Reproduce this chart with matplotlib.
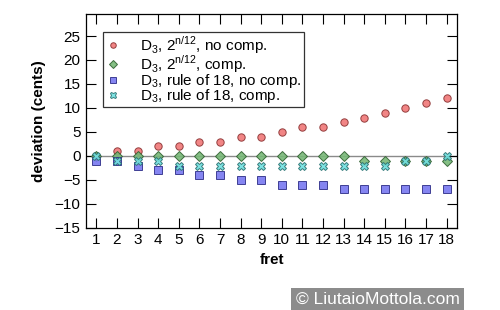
import matplotlib.pyplot as plt
import numpy as np

plt.rcParams['font.family'] = ['Liberation Sans', 'DejaVu Sans']
plt.rcParams['mathtext.fontset'] = 'custom'
plt.rcParams['mathtext.rm'] = 'Liberation Sans'

frets = list(range(1, 19))
et_no_comp = [0, 1, 1, 2, 2, 3, 3, 4, 4, 5, 6, 6, 7, 8, 9, 10, 11, 12]
et_comp = [0, 0, 0, 0, 0, 0, 0, 0, 0, 0, 0, 0, 0, -1, -1, -1, -1, -1]
r18_no_comp = [-1, -1, -2, -3, -3, -4, -4, -5, -5, -6, -6, -6, -7, -7, -7, -7, -7, -7]
r18_comp = [0, -1, -1, -1, -2, -2, -2, -2, -2, -2, -2, -2, -2, -2, -2, -1, -1, 0]

labels = [r'D$_\mathrm{3}$, 2$^\mathrm{n/12}$, no comp.',
          r'D$_\mathrm{3}$, 2$^\mathrm{n/12}$, comp.',
          r'D$_\mathrm{3}$, rule of 18, no comp.',
          r'D$_\mathrm{3}$, rule of 18, comp.']
yticks = [-15, -10, -5, 0, 5, 10, 15, 20, 25]

fig = plt.figure(figsize=(5, 3.1), dpi=100)
ax = fig.add_axes([0.172, 0.265, 0.742, 0.69])

ax.axhline(0, color='#8a8a8a', lw=1, zorder=1)

ax.plot(frets, et_no_comp, 'o', ms=5.3, mfc='#f07878', mec='#8a3030', mew=0.7,
        alpha=0.9, label=labels[0], zorder=3)
ax.plot(frets, et_comp, 'D', ms=5.3, mfc='#78b878', mec='#2f602f', mew=0.7,
        alpha=0.9, label=labels[1], zorder=3)
ax.plot(frets, r18_no_comp, 's', ms=5.3, mfc='#7878f0', mec='#30308a', mew=0.7,
        alpha=0.9, label=labels[2], zorder=3)
ax.plot(frets, r18_comp, 'X', ms=6.3, mfc='#70e0e0', mec='#2a7070', mew=0.7,
        alpha=0.9, label=labels[3], zorder=3)

ax.set_xlim(0.5, 18.5)
ax.set_ylim(-15, 29.6)
ax.set_xticks(frets)
ax.set_yticks(yticks)
ax.tick_params(direction='in', length=7, width=0.8, top=True, right=True,
               labelsize=11, pad=4)
for s in ax.spines.values():
    s.set_linewidth(0.9)

ax.set_xlabel('fret', fontsize=11, fontweight='bold', labelpad=4)
ax.set_ylabel('deviation (cents)', fontsize=11, fontweight='bold', labelpad=6)

leg = ax.legend(loc='upper left', bbox_to_anchor=(0.046, 0.916), borderaxespad=0,
                fontsize=11, frameon=True, fancybox=False, edgecolor='black',
                handletextpad=1.3, handlelength=1.0, labelspacing=-0.18,
                borderpad=0.15, markerscale=0.75)
leg.get_frame().set_linewidth(0.9)

fig.text(0.755, 0.033, '\u00a9 LiutaioMottola.com', fontsize=12.5, color='white',
         ha='center', va='center',
         bbox=dict(boxstyle='square,pad=0.25', fc='#8c8c8c', ec='none'))

fig.savefig('out.png', dpi=100)
